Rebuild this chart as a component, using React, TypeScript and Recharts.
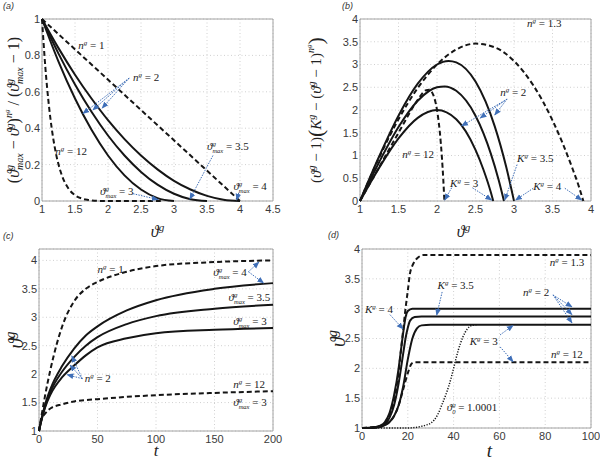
import React from "react";
import { LineChart, Line, XAxis, YAxis, CartesianGrid, ReferenceLine, ReferenceDot, ReferenceArea } from "recharts";

// ---------- panel (a) ----------
const aTicksX = [1, 1.5, 2, 2.5, 3, 3.5, 4, 4.5];
const aTicksY = [0, 0.2, 0.4, 0.6, 0.8, 1];
const aN1X = [1, 4];
const aN1Y = [1, 0];
const aN2X = [1, 1.25, 1.5, 1.75, 2, 2.25, 2.5, 2.75, 3, 3.25, 3.5, 3.75, 4];
const aMax4Y = [1, 0.84, 0.694, 0.563, 0.444, 0.34, 0.25, 0.174, 0.111, 0.063, 0.028, 0.007, 0];
const aMax35Y = [1, 0.81, 0.64, 0.49, 0.36, 0.25, 0.16, 0.09, 0.04, 0.01, 0];
const aMax3Y = [1, 0.766, 0.563, 0.391, 0.25, 0.141, 0.063, 0.016, 0];
const aN12X = [1, 1.05, 1.1, 1.15, 1.2, 1.3, 1.4, 1.5, 1.6, 1.7, 1.85, 2, 2.4, 2.8];
const aN12Y = [1, 0.738, 0.54, 0.392, 0.282, 0.142, 0.069, 0.032, 0.014, 0.006, 0.001, 0, 0, 0];

// ---------- panel (b) ----------
const bTicksX = [1, 1.5, 2, 2.5, 3, 3.5, 4];
const bTicksY = [0, 0.5, 1, 1.5, 2, 2.5, 3, 3.5, 4];
const bK3X = [1, 1.25, 1.5, 1.75, 2, 2.25, 2.5, 2.6, 2.7, 2.73];
const bK3Y = [0, 0.734, 1.375, 1.828, 2, 1.797, 1.125, 0.704, 0.187, 0];
const bK35X = [1, 1.25, 1.5, 1.75, 2, 2.1, 2.25, 2.5, 2.7, 2.8, 2.87];
const bK35Y = [0, 0.859, 1.625, 2.203, 2.5, 2.519, 2.422, 1.875, 1.037, 0.468, 0];
const bK4X = [1, 1.25, 1.5, 1.75, 2, 2.15, 2.25, 2.5, 2.75, 2.9, 3];
const bK4Y = [0, 0.984, 1.875, 2.578, 3, 3.079, 3.047, 2.625, 1.641, 0.741, 0];
const bN13X = [1, 1.25, 1.5, 1.75, 2, 2.25, 2.5, 2.75, 3, 3.25, 3.5, 3.75, 3.85, 3.9];
const bN13Y = [0, 0.959, 1.797, 2.484, 3, 3.329, 3.459, 3.378, 3.077, 2.543, 1.773, 0.756, 0.28, 0];
const bN12X = [1, 1.25, 1.5, 1.75, 1.8, 1.85, 1.9, 1.95, 2, 2.05, 2.08, 2.096];
const bN12Y = [0, 0.75, 1.5, 2.226, 2.345, 2.429, 2.446, 2.337, 2, 1.264, 0.521, 0];

// ---------- panel (c) ----------
const cTicksX = [0, 50, 100, 150, 200];
const cTicksY = [1, 1.5, 2, 2.5, 3, 3.5, 4];
const cT = [0, 2, 5, 10, 20, 30, 40, 50, 75, 100, 150, 200];
const cN1 = [1, 1.25, 1.6, 2.1, 2.85, 3.28, 3.5, 3.62, 3.8, 3.9, 3.97, 4.0];
const cMax4 = [1, 1.2, 1.45, 1.75, 2.15, 2.45, 2.68, 2.84, 3.12, 3.3, 3.5, 3.6];
const cMax35 = [1, 1.19, 1.42, 1.7, 2.05, 2.3, 2.5, 2.65, 2.88, 3.02, 3.15, 3.22];
const cMax3 = [1, 1.18, 1.4, 1.65, 1.95, 2.15, 2.33, 2.47, 2.63, 2.72, 2.78, 2.81];
const cN12 = [1, 1.2, 1.3, 1.4, 1.47, 1.52, 1.545, 1.56, 1.6, 1.63, 1.67, 1.7];

// ---------- panel (d) ----------
const dTicksX = [0, 20, 40, 60, 80, 100];
const dTicksY = [1, 1.5, 2, 2.5, 3, 3.5, 4];
const dN13T = [0, 8, 10, 12, 14, 16, 17, 18, 19, 20, 21, 22, 24, 27, 100];
const dN13 = [1, 1.03, 1.08, 1.2, 1.45, 1.95, 2.3, 2.65, 3.0, 3.3, 3.6, 3.72, 3.84, 3.9, 3.9];
const dK4T = [0, 5, 8, 10, 12, 14, 16, 17, 18, 19, 20, 22, 100];
const dK4 = [1, 1.01, 1.04, 1.1, 1.25, 1.55, 2.0, 2.3, 2.6, 2.85, 2.96, 3.0, 3.0];
const dK35T = [0, 5, 8, 10, 12, 14, 16, 18, 19, 20, 21, 23, 26, 100];
const dK35 = [1, 1.01, 1.03, 1.07, 1.17, 1.38, 1.75, 2.25, 2.5, 2.68, 2.8, 2.86, 2.87, 2.87];
const dK3T = [0, 5, 8, 10, 12, 14, 16, 18, 20, 22, 24, 26, 30, 100];
const dK3 = [1, 1.0, 1.02, 1.05, 1.1, 1.2, 1.38, 1.7, 2.15, 2.5, 2.67, 2.72, 2.73, 2.73];
const dN12T = [0, 8, 10, 12, 14, 16, 18, 20, 21.5, 22.5, 100];
const dN12 = [1, 1.02, 1.05, 1.1, 1.2, 1.38, 1.65, 1.92, 2.07, 2.1, 2.1];
const dSlowT = [0, 20, 25, 28, 30, 33, 35, 37, 39, 40, 42, 44, 46, 48, 50];
const dSlow = [1, 1.0, 1.02, 1.05, 1.08, 1.22, 1.4, 1.6, 1.85, 2.0, 2.3, 2.52, 2.66, 2.72, 2.73];

const zip = (xs: number[], ys: number[]) =>
  ys.slice(0, xs.length).map((y, i) => ({ x: xs[i], y }));

const serif = "'Liberation Serif', 'DejaVu Serif', serif";
const sans = "'Liberation Sans', Arial, sans-serif";
const blue = "#3f6fb8";
const ink = "#151515";
const tickStyle = { fontSize: 11, fill: "#3a3a3a", fontFamily: sans };

// n^g = v, K^g = v, theta^g_max = v, theta^g_0 = v
function noteParts(kind: string, v: string) {
  if (kind === "n" || kind === "K")
    return [
      <tspan key="a" fontStyle="italic">{kind}</tspan>,
      <tspan key="b" fontSize={7} dy={-4} fontStyle="italic">g</tspan>,
      <tspan key="c" dy={4}>{" = " + v}</tspan>,
    ];
  const sub = kind === "max" ? "max" : "0";
  return [
    <tspan key="a" fontStyle="italic">ϑ</tspan>,
    <tspan key="b" fontSize={7} dy={-4} fontStyle="italic">g</tspan>,
    <tspan key="c" fontSize={6.5} dx={-3.5} dy={7} fontStyle="italic">{sub}</tspan>,
    <tspan key="d" dy={-3}>{" = " + v}</tspan>,
  ];
}

const note = (kind: string, v: string) => (p: any) => {
  const vb = p.viewBox || {};
  return (
    <text x={vb.x + 1} y={vb.y + 1} fontFamily={serif} fontSize={11} fill="#222">
      {noteParts(kind, v)}
    </text>
  );
};

const Arrow = (p: any) => (
  <line x1={p.x1} y1={p.y1} x2={p.x2} y2={p.y2} stroke={blue} strokeWidth={1}
    strokeDasharray="1.5 1.2" markerEnd="url(#arrowHead)" />
);

function Note({ x, y, kind, v }: any) {
  return <ReferenceDot x={x} y={y} r={1} fill="none" stroke="none" ifOverflow="visible" label={note(kind, v)} />;
}

function Arr({ from, to }: any) {
  return <ReferenceLine segment={[{ x: from[0], y: from[1] }, { x: to[0], y: to[1] }]} shape={Arrow} ifOverflow="visible" />;
}

// axis titles
const thetaG = (fs: number) => [
  <tspan key="t" fontStyle="italic">ϑ</tspan>,
  <tspan key="g" fontSize={fs * 0.7} dy={-fs * 0.4} fontStyle="italic">g</tspan>,
];

const xTitle = (node: any, dx: number, dy: number, fs: number) => (p: any) => {
  const vb = p.viewBox || {};
  return (
    <text x={vb.x + vb.width / 2 + dx} y={vb.y + dy} textAnchor="middle" fontFamily={serif} fontSize={fs} fill="#222">
      {node}
    </text>
  );
};

const yTitle = (node: any, ox: number, fs: number) => (p: any) => {
  const vb = p.viewBox || {};
  const cx = vb.x + ox;
  const cy = vb.y + vb.height / 2;
  return (
    <text x={cx} y={cy} transform={`rotate(-90 ${cx} ${cy})`} textAnchor="middle" fontFamily={serif} fontSize={fs} fill="#222">
      {node}
    </text>
  );
};

const aYLabel = [
  <tspan key="1">(</tspan>,
  <tspan key="2" fontStyle="italic">ϑ</tspan>,
  <tspan key="3" fontSize={10} dy={-6} fontStyle="italic">g</tspan>,
  <tspan key="4" fontSize={10} dx={-5} dy={10} fontStyle="italic">max</tspan>,
  <tspan key="5" dy={-4}>{"  −  "}</tspan>,
  <tspan key="6" fontStyle="italic">ϑ</tspan>,
  <tspan key="7" fontSize={10} dy={-6} fontStyle="italic">g</tspan>,
  <tspan key="8" dy={6}>)</tspan>,
  <tspan key="9" fontSize={10} dy={-7} fontStyle="italic">n</tspan>,
  <tspan key="10" fontSize={7} dy={-3} fontStyle="italic">g</tspan>,
  <tspan key="11" dy={10}>{" / ("}</tspan>,
  <tspan key="12" fontStyle="italic">ϑ</tspan>,
  <tspan key="13" fontSize={10} dy={-6} fontStyle="italic">g</tspan>,
  <tspan key="14" fontSize={10} dx={-5} dy={10} fontStyle="italic">max</tspan>,
  <tspan key="15" dy={-4}>{"  −  1)"}</tspan>,
];

const bYLabel = [
  <tspan key="1">(</tspan>,
  <tspan key="2" fontStyle="italic">ϑ</tspan>,
  <tspan key="3" fontSize={10} dy={-6} fontStyle="italic">g</tspan>,
  <tspan key="4" dy={6}>{" − 1)"}</tspan>,
  <tspan key="5" fontSize={22} dy={2}>(</tspan>,
  <tspan key="6" dy={-2} fontStyle="italic">K</tspan>,
  <tspan key="7" fontSize={10} dy={-6} fontStyle="italic">g</tspan>,
  <tspan key="8" dy={6}>{" − ("}</tspan>,
  <tspan key="9" fontStyle="italic">ϑ</tspan>,
  <tspan key="10" fontSize={10} dy={-6} fontStyle="italic">g</tspan>,
  <tspan key="11" dy={6}>{" − 1)"}</tspan>,
  <tspan key="12" fontSize={10} dy={-7} fontStyle="italic">n</tspan>,
  <tspan key="13" fontSize={7} dy={-3} fontStyle="italic">g</tspan>,
  <tspan key="14" fontSize={22} dy={12}>)</tspan>,
];

const gridProps = { stroke: "#d0d0d0", strokeDasharray: "1 2.5" };
const frame = { fill: "none", stroke: "#9a9a9a", strokeWidth: 0.9 };

function Panel({ left, top, label, children }: any) {
  return (
    <div style={{ position: "absolute", left, top }}>
      {children}
      <div style={{ position: "absolute", left: label[1], top: label[2], fontFamily: sans, fontStyle: "italic", fontSize: 9, color: "#333" }}>
        {label[0]}
      </div>
    </div>
  );
}

export default function App() {
  const common = { dot: false, activeDot: false, isAnimationActive: false, dataKey: "y" } as const;
  const solid = { ...common, type: "monotone" as const, stroke: ink, strokeWidth: 2 };
  const dashed = { ...solid, strokeDasharray: "5 3" };

  return (
    <div style={{ position: "absolute", left: 0, top: 0, width: 600, height: 461, background: "#fff", overflow: "hidden" }}>
      <svg width={0} height={0} style={{ position: "absolute" }}>
        <defs>
          <marker id="arrowHead" viewBox="0 0 10 10" refX="9" refY="5" markerWidth="7" markerHeight="7"
            orient="auto" markerUnits="userSpaceOnUse">
            <path d="M0,1 L10,5 L0,9 z" fill={blue} />
          </marker>
        </defs>
      </svg>

      {/* (a) */}
      <Panel left={0} top={0} label={["(a)", 3, 1]}>
        <LineChart width={300} height={240} margin={{ top: 19, right: 27, bottom: 0, left: 0 }}>
          <CartesianGrid {...gridProps} />
          <XAxis type="number" dataKey="x" domain={[1, 4.5]} ticks={aTicksX} interval={0} axisLine={false} tickLine={false}
            tickSize={3} tickMargin={1} tick={tickStyle} height={39} label={{ content: xTitle(thetaG(16), 0, 36, 16) }} />
          <YAxis type="number" dataKey="y" domain={[0, 1]} ticks={aTicksY} interval={0} axisLine={false} tickLine={false}
            tickSize={1} tickMargin={1} tick={tickStyle} width={42} label={{ content: yTitle(aYLabel, 19, 16) }} />
          <ReferenceArea x1={1} x2={4.5} y1={0} y2={1} {...frame} />
          <Line {...dashed} type="linear" data={zip(aN1X, aN1Y)} />
          <Line {...solid} data={zip(aN2X, aMax4Y)} />
          <Line {...solid} data={zip(aN2X, aMax35Y)} />
          <Line {...solid} data={zip(aN2X, aMax3Y)} />
          <Line {...dashed} data={zip(aN12X, aN12Y)} />
          <Note x={1.55} y={0.835} kind="n" v="1" />
          <Note x={2.38} y={0.66} kind="n" v="2" />
          <Note x={1.2} y={0.253} kind="n" v="12" />
          <Note x={1.88} y={0.033} kind="max" v="3" />
          <Note x={3.5} y={0.28} kind="max" v="3.5" />
          <Note x={3.9} y={0.06} kind="max" v="4" />
          <Arr from={[2.32, 0.675]} to={[1.62, 0.48]} />
          <Arr from={[2.32, 0.675]} to={[1.77, 0.5]} />
          <Arr from={[2.32, 0.675]} to={[1.91, 0.51]} />
          <Arr from={[2.38, 0.04]} to={[2.76, 0.008]} />
          <Arr from={[3.59, 0.25]} to={[3.24, 0.01]} />
          <Arr from={[3.98, 0.045]} to={[3.95, 0.005]} />
        </LineChart>
      </Panel>

      {/* (b) */}
      <Panel left={300} top={0} label={["(b)", 42, 1]}>
        <LineChart width={300} height={240} margin={{ top: 19, right: 9, bottom: 0, left: 0 }}>
          <CartesianGrid {...gridProps} />
          <XAxis type="number" dataKey="x" domain={[1, 4]} ticks={bTicksX} interval={0} axisLine={false} tickLine={false}
            tickSize={3} tickMargin={1} tick={tickStyle} height={39} label={{ content: xTitle(thetaG(16), -12, 36, 16) }} />
          <YAxis type="number" dataKey="y" domain={[0, 4]} ticks={bTicksY} interval={0} axisLine={false} tickLine={false}
            tickSize={1} tickMargin={1} tick={tickStyle} width={60} label={{ content: yTitle(bYLabel, 21, 15) }} />
          <ReferenceArea x1={1} x2={4} y1={0} y2={4} {...frame} />
          <Line {...dashed} data={zip(bN13X, bN13Y)} />
          <Line {...solid} data={zip(bK4X, bK4Y)} />
          <Line {...solid} data={zip(bK35X, bK35Y)} />
          <Line {...solid} data={zip(bK3X, bK3Y)} />
          <Line {...dashed} data={zip(bN12X, bN12Y)} />
          <Note x={3.17} y={3.82} kind="n" v="1.3" />
          <Note x={2.82} y={2.31} kind="n" v="2" />
          <Note x={1.55} y={0.945} kind="n" v="12" />
          <Note x={2.17} y={0.31} kind="K" v="3" />
          <Note x={3.04} y={0.86} kind="K" v="3.5" />
          <Note x={3.25} y={0.24} kind="K" v="4" />
          <Arr from={[2.91, 2.24]} to={[2.32, 1.65]} />
          <Arr from={[2.91, 2.24]} to={[2.56, 1.82]} />
          <Arr from={[2.91, 2.24]} to={[2.75, 1.89]} />
          <Arr from={[2.19, 0.29]} to={[2.1, 0.02]} />
          <Arr from={[2.46, 0.29]} to={[2.71, 0.02]} />
          <Arr from={[3.04, 0.8]} to={[2.88, 0.02]} />
          <Arr from={[3.25, 0.28]} to={[3.02, 0.02]} />
          <Arr from={[3.66, 0.28]} to={[3.88, 0.02]} />
        </LineChart>
      </Panel>

      {/* (c) */}
      <Panel left={0} top={230} label={["(c)", 3, 1]}>
        <LineChart width={300} height={231} margin={{ top: 19, right: 27, bottom: 0, left: 0 }}>
          <CartesianGrid {...gridProps} />
          <XAxis type="number" dataKey="x" domain={[0, 200]} ticks={cTicksX} interval={0} axisLine={false} tickLine={false}
            tickSize={3} tickMargin={1} tick={tickStyle} height={30}
            label={{ content: xTitle(<tspan fontStyle="italic">t</tspan>, 0, 25, 17) }} />
          <YAxis type="number" dataKey="y" domain={[1, 4.2]} ticks={cTicksY} interval={0} axisLine={false} tickLine={false}
            tickSize={1} tickMargin={1} tick={tickStyle} width={39} label={{ content: yTitle(thetaG(20), 23, 20) }} />
          <ReferenceArea x1={0} x2={200} y1={1} y2={4.2} {...frame} />
          <Line {...dashed} data={zip(cT, cN1)} />
          <Line {...solid} data={zip(cT, cMax4)} />
          <Line {...solid} data={zip(cT, cMax35)} />
          <Line {...solid} data={zip(cT, cMax3)} />
          <Line {...dashed} data={zip(cT, cN12)} />
          <Note x={50} y={3.78} kind="n" v="1" />
          <Note x={149} y={3.73} kind="max" v="4" />
          <Note x={162} y={3.28} kind="max" v="3.5" />
          <Note x={166} y={2.86} kind="max" v="3" />
          <Note x={39} y={1.86} kind="n" v="2" />
          <Note x={166} y={1.76} kind="n" v="12" />
          <Note x={166} y={1.44} kind="max" v="3" />
          <Arr from={[179, 3.8]} to={[188, 3.97]} />
          <Arr from={[179, 3.8]} to={[192, 3.6]} />
          <Arr from={[37, 1.92]} to={[28, 2.32]} />
          <Arr from={[37, 1.92]} to={[26.5, 2.16]} />
          <Arr from={[37, 1.92]} to={[24, 1.99]} />
        </LineChart>
      </Panel>

      {/* (d) */}
      <Panel left={300} top={230} label={["(d)", 28, 0]}>
        <LineChart width={300} height={231} margin={{ top: 19, right: 9, bottom: 0, left: 0 }}>
          <CartesianGrid {...gridProps} />
          <XAxis type="number" dataKey="x" domain={[0, 100]} ticks={dTicksX} interval={0} axisLine={false} tickLine={false}
            tickSize={3} tickMargin={1} tick={tickStyle} height={33}
            label={{ content: xTitle(<tspan fontStyle="italic">t</tspan>, 13, 29, 19) }} />
          <YAxis type="number" dataKey="y" domain={[1, 4]} ticks={dTicksY} interval={0} axisLine={false} tickLine={false}
            tickSize={1} tickMargin={1} tick={tickStyle} width={62} label={{ content: yTitle(thetaG(20), 45, 20) }} />
          <ReferenceArea x1={0} x2={100} y1={1} y2={4} {...frame} />
          <Line {...dashed} data={zip(dN13T, dN13)} />
          <Line {...solid} data={zip(dK4T, dK4)} />
          <Line {...solid} data={zip(dK35T, dK35)} />
          <Line {...solid} data={zip(dK3T, dK3)} />
          <Line {...dashed} data={zip(dN12T, dN12)} />
          <Line {...common} type="monotone" stroke={ink} strokeWidth={1.5} strokeDasharray="1.2 1.5" data={zip(dSlowT, dSlow)} />
          <Note x={82} y={3.72} kind="n" v="1.3" />
          <Note x={33} y={3.33} kind="K" v="3.5" />
          <Note x={1.3} y={2.93} kind="K" v="4" />
          <Note x={70.3} y={3.21} kind="n" v="2" />
          <Note x={47} y={2.39} kind="K" v="3" />
          <Note x={82.5} y={2.17} kind="n" v="12" />
          <Note x={37} y={1.29} kind="0" v="1.0001" />
          <Arr from={[35, 3.28]} to={[32.6, 2.89]} />
          <Arr from={[12.2, 2.9]} to={[17.9, 2.66]} />
          <Arr from={[83.4, 3.23]} to={[91.7, 3.03]} />
          <Arr from={[83.4, 3.23]} to={[91.7, 2.9]} />
          <Arr from={[83.4, 3.23]} to={[91.7, 2.76]} />
          <Arr from={[60.3, 2.56]} to={[66, 2.72]} />
          <Arr from={[60.3, 2.36]} to={[66, 2.11]} />
        </LineChart>
      </Panel>
    </div>
  );
}
